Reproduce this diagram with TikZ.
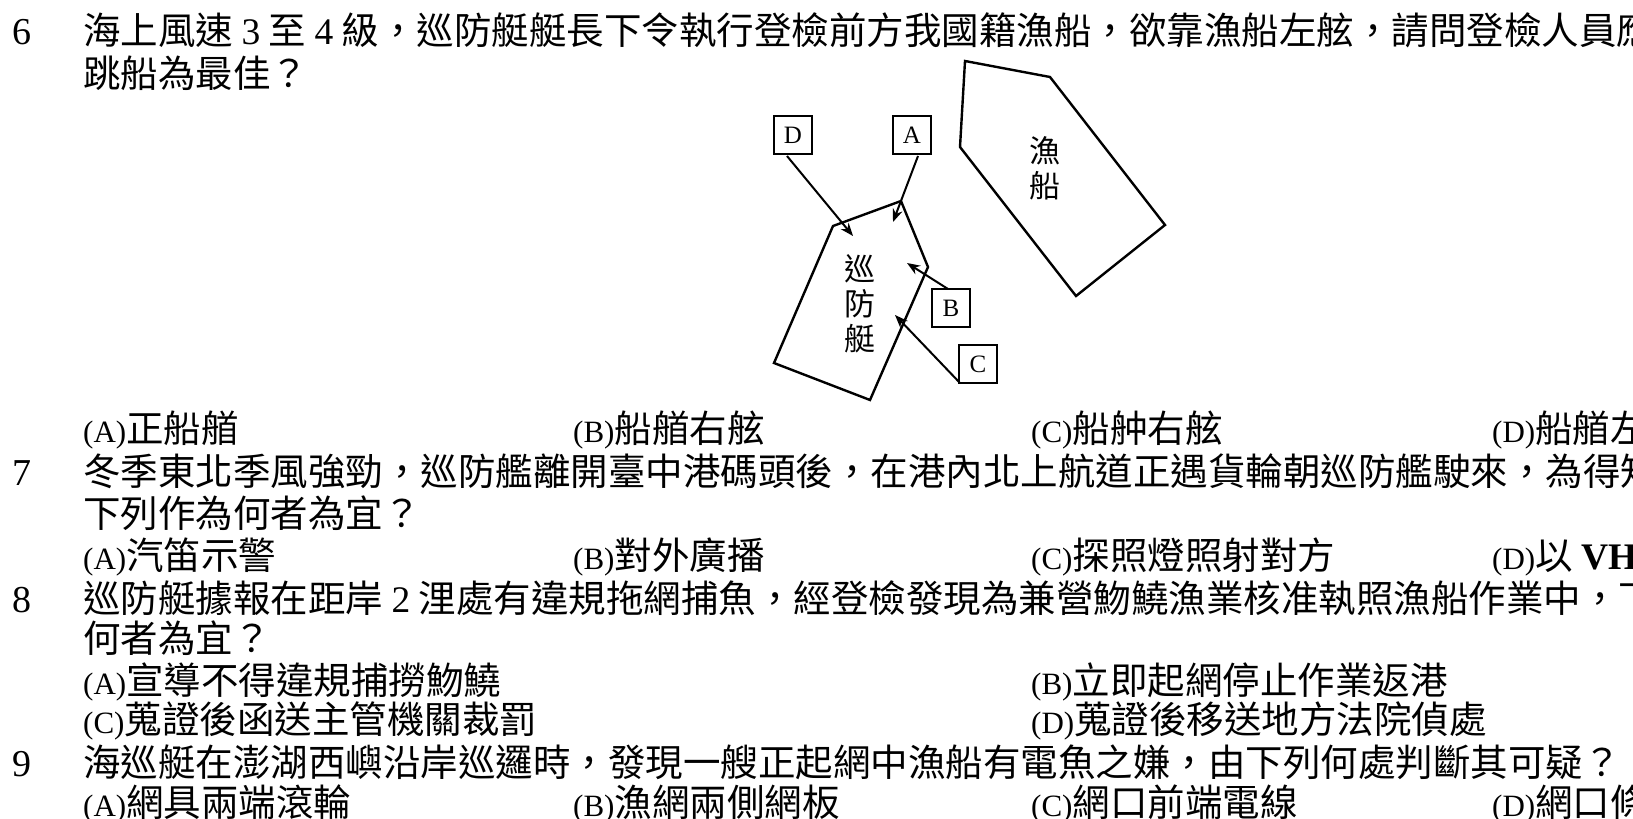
\documentclass[tikz,border=0pt]{standalone}
\usepackage{fontspec}
\setmainfont{Liberation Serif}
\newfontfamily\cjk{Noto Sans CJK TC}
\usetikzlibrary{arrows.meta}
\usetikzlibrary{positioning}
\newcommand{\en}[1]{{\rmfamily #1}}
\newcommand{\op}[1]{{\rmfamily\fontsize{31}{31}\selectfont(#1)}}
\tikzset{
    line/.style={anchor=base west, inner sep=0pt, font=\cjk\fontsize{37.5}{37.5}\selectfont},
    qnum/.style={anchor=base west, inner sep=0pt, font=\rmfamily\fontsize{38}{38}\selectfont},
    letterbox/.style={draw, line width=2pt, minimum size=38pt, inner sep=0pt, font=\rmfamily\fontsize{25}{25}\selectfont},
    hull/.style={draw, line width=2.4pt, line join=miter},
    boatlabel/.style={align=center, inner sep=0pt, font=\cjk\fontsize{31}{35}\selectfont},
    every edge/.style={draw, line width=2pt, -{Stealth[length=13pt, width=10pt]}}
}

\begin{document}
\begin{tikzpicture}[x=1pt, y=-1pt]
    \useasboundingbox (0,0) rectangle (1633,819);
    \clip (0,0) rectangle (1633,819);

    % question numbers
    \node[qnum] (q6) at (12,44) {6};
    \node[qnum] (q7) at (12,485) {7};
    \node[qnum] (q8) at (12,612) {8};
    \node[qnum] (q9) at (12,776) {9};

    % question 6
    \node[line] (t1) at (83,44) {海上風速 \en{3} 至 \en{4} 級，巡防艇艇長下令執行登檢前方我國籍漁船，欲靠漁船左舷，請問登檢人員應於何處};
    \node[line] (t2) at (83,87) {跳船為最佳？};

    % the two boats
    \draw[hull] (833,226) -- (901,201) -- (928,267) -- (870,400) -- (774,363) -- cycle;
    \draw[hull] (965,61) -- (1050,77) -- (1165,225) -- (1076,296) -- (960,147) -- cycle;
    \node[boatlabel] (patrol) at (860,304) {巡\\防\\艇};
    \node[boatlabel] (fisher) at (1045,168) {漁\\船};

    \node[letterbox] (D) at (793,135) {D};
    \node[letterbox] (A) at (912,135) {A};
    \node[letterbox] (B) at (951,308) {B};
    \node[letterbox] (C) at (978,364) {C};
    \coordinate (tipD) at (853,236);
    \coordinate (tipA) at (893,222);
    \coordinate (tipB) at (907,263);
    \coordinate (tipC) at (895,315);
    \draw (787,156) edge (tipD);
    \draw (918,156) edge (tipA);
    \draw (948,289) edge (tipB);
    \draw (960,383) edge (tipC);

    \node[line] (o6a) at (83,442) {\op{A}正船艏};
    \node[line] (o6b) at (573,442) {\op{B}船艏右舷};
    \node[line] (o6c) at (1031,442) {\op{C}船舯右舷};
    \node[line] (o6d) at (1492,442) {\op{D}船艏左舷};

    % question 7
    \node[line] (t3) at (83,485) {冬季東北季風強勁，巡防艦離開臺中港碼頭後，在港內北上航道正遇貨輪朝巡防艦駛來，為得知其動態};
    \node[line] (t4) at (83,527) {下列作為何者為宜？};
    \node[line] (o7a) at (83,569) {\op{A}汽笛示警};
    \node[line] (o7b) at (573,569) {\op{B}對外廣播};
    \node[line] (o7c) at (1031,569) {\op{C}探照燈照射對方};
    \node[line] (o7d) at (1492,569) {\op{D}以 \en{\textbf{VHF}}};

    % question 8
    \node[line] (t5) at (83,612) {巡防艇據報在距岸 \en{2} 浬處有違規拖網捕魚，經登檢發現為兼營魩鱙漁業核准執照漁船作業中，下列};
    \node[line] (t6) at (83,652) {何者為宜？};
    \node[line] (o8a) at (83,694) {\op{A}宣導不得違規捕撈魩鱙};
    \node[line] (o8b) at (1031,694) {\op{B}立即起網停止作業返港};
    \node[line] (o8c) at (83,733) {\op{C}蒐證後函送主管機關裁罰};
    \node[line] (o8d) at (1031,733) {\op{D}蒐證後移送地方法院偵處};

    % question 9
    \node[line] (t7) at (83,776) {海巡艇在澎湖西嶼沿岸巡邏時，發現一艘正起網中漁船有電魚之嫌，由下列何處判斷其可疑？};
    \node[line] (o9a) at (83,816) {\op{A}網具兩端滾輪};
    \node[line] (o9b) at (573,816) {\op{B}漁網兩側網板};
    \node[line] (o9c) at (1031,816) {\op{C}網口前端電線};
    \node[line] (o9d) at (1492,816) {\op{D}網口條};
\end{tikzpicture}
\end{document}
